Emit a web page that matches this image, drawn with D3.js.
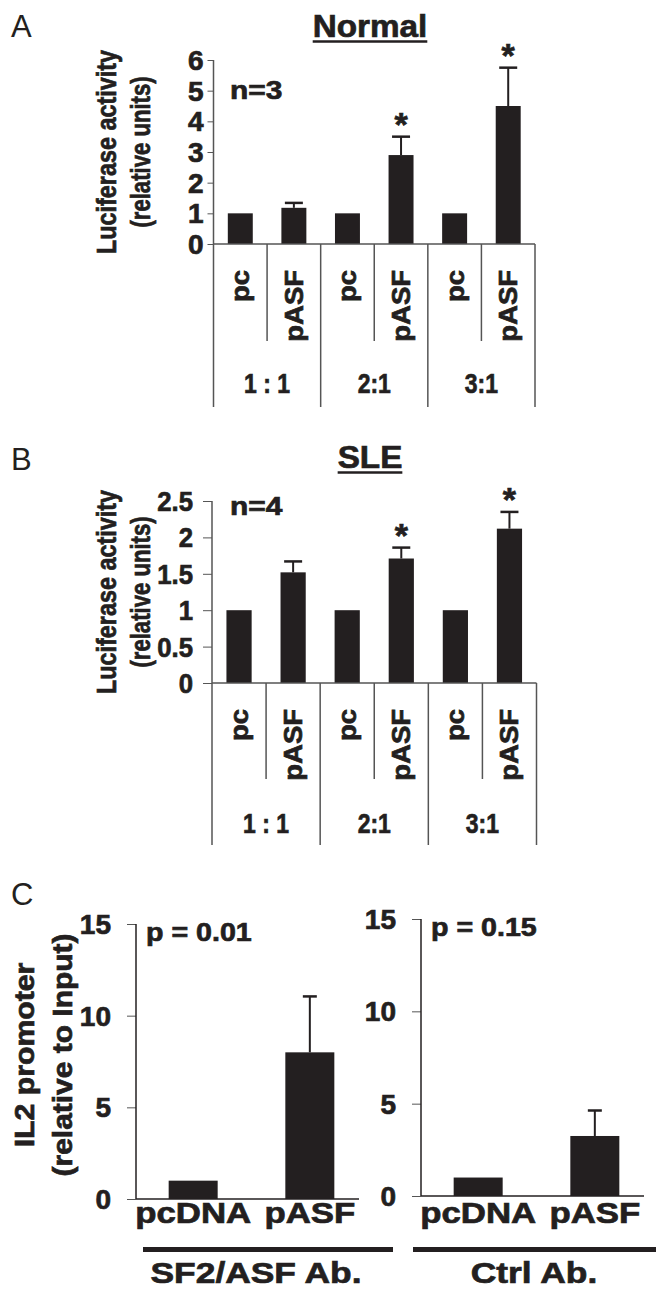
<!DOCTYPE html>
<html>
<head>
<meta charset="utf-8">
<script src="https://cdn.jsdelivr.net/npm/d3@7"></script>
<style>
  html, body { margin: 0; padding: 0; background: #fff; }
  svg { display: block; font-family: "Liberation Sans", Arial, Helvetica, sans-serif; }
</style>
</head>
<body>
<div id="figure"></div>
<script>
// ---- data ----
const groupLabels = ["1 : 1", "2:1", "3:1"]
const plasmids = ["pc", "pASF"]

const normalMeans = [1, 1.18, 1, 2.9, 1, 4.5]
const normalErrors = [0, 0.16, 0, 0.6, 0, 1.25]
const normalStars = [false, false, false, true, false, true]
const normalTicks = [0, 1, 2, 3, 4, 5, 6]

const sleMeans = [1, 1.52, 1, 1.71, 1, 2.12]
const sleErrors = [0, 0.15, 0, 0.15, 0, 0.23]
const sleStars = [false, false, false, true, false, true]
const sleTicks = [0, 0.5, 1, 1.5, 2, 2.5]

const chipCategories = ["pcDNA", "pASF"]
const sf2Means = [1, 8.0]
const sf2Errors = [0, 3.05]
const ctrlMeans = [1, 3.25]
const ctrlErrors = [0, 1.38]
const chipTicks = [0, 5, 10, 15]

const barColor = "#231f20"
const axisColor = "#555"

const svg = d3.select("#figure")
  .append("svg")
    .attr("width", 658)
    .attr("height", 1290)

// text helper: stretch along the reading direction, optional rotation
function label(parent, str, x, y, opts = {}) {
  const {size = 24, weight = "bold", anchor = "start", sx = 1, rotate = 0, dy = null} = opts
  const t = parent.append("text")
    .attr("transform", `translate(${x},${y}) rotate(${rotate}) scale(${sx},1)`)
    .attr("font-size", size)
    .attr("font-weight", weight)
    .attr("text-anchor", anchor)
    .attr("fill", "#231f20")
    .text(str)
  if (weight === "bold") t.attr("stroke", "#231f20").attr("stroke-width", 0.7)
  if (dy) t.attr("dy", dy)
  return t
}

// ---- panels A and B: luciferase assays ----
function drawLuciferase(cfg) {
  const g = svg.append("g")
  const slots = d3.range(groupLabels.length * plasmids.length)

  const xScale = d3.scaleBand()
    .domain(slots)
    .range([cfg.left, cfg.right])
    .paddingInner(0.534)
    .paddingOuter(0.267)
  const step = xScale.step()
  const slotCenter = i => xScale(i) + xScale.bandwidth() / 2

  const yScale = d3.scaleLinear()
    .domain([0, d3.max(cfg.ticks)])
    .range([cfg.zeroY, cfg.topY])

  // letter + title
  label(g, cfg.letter, 11, cfg.letterY, {size: 31, weight: "normal"})
  const title = label(g, cfg.title, 370, cfg.titleY, {size: 32, anchor: "middle", sx: 1.04})
  const tw = title.node().getComputedTextLength() * 1.04
  g.append("line")
    .attr("x1", 370 - tw / 2).attr("x2", 370 + tw / 2)
    .attr("y1", cfg.titleY + 4.5).attr("y2", cfg.titleY + 4.5)
    .attr("stroke", "#231f20").attr("stroke-width", 2.5)

  // y axis ticks
  const yAxis = d3.axisLeft(yScale)
    .tickValues(cfg.ticks)
    .tickSize(cfg.tickLen)
    .tickFormat("")
  g.append("g")
    .attr("transform", `translate(${cfg.left},0)`)
    .call(yAxis)
    .call(a => a.select(".domain").remove())
    .call(a => a.selectAll(".tick line").attr("stroke", axisColor))
  cfg.ticks.forEach(t => {
    label(g, d3.format("~g")(t), cfg.left - cfg.labelGap, yScale(t),
      {size: 28, anchor: "end", sx: cfg.tickSx, dy: "0.36em"})
  })

  // bars
  g.selectAll(".bar")
    .data(cfg.means)
    .join("rect")
      .attr("x", (d, i) => xScale(i))
      .attr("width", xScale.bandwidth())
      .attr("y", d => yScale(d))
      .attr("height", d => yScale(0) - yScale(d))
      .attr("fill", barColor)

  // error bars (upper only) and stars
  cfg.means.forEach((m, i) => {
    const e = cfg.errors[i]
    if (!e) return
    const cx = slotCenter(i)
    g.append("line")
      .attr("x1", cx).attr("x2", cx)
      .attr("y1", yScale(m)).attr("y2", yScale(m + e))
      .attr("stroke", barColor).attr("stroke-width", 2)
    g.append("line")
      .attr("x1", cx - 9).attr("x2", cx + 9)
      .attr("y1", yScale(m + e)).attr("y2", yScale(m + e))
      .attr("stroke", barColor).attr("stroke-width", 2.5)
    if (cfg.stars[i]) {
      label(g, "*", cx, yScale(m + e) - 1, {size: 34, anchor: "middle"})
    }
  })

  // axis frame: baseline, left line, slot separators
  g.append("line")
    .attr("x1", cfg.left).attr("x2", cfg.right)
    .attr("y1", cfg.zeroY).attr("y2", cfg.zeroY)
    .attr("stroke", axisColor).attr("stroke-width", 1.5)
  d3.range(slots.length + 1).forEach(k => {
    const x = cfg.left + k * step
    const long = k % plasmids.length === 0
    g.append("line")
      .attr("x1", x).attr("x2", x)
      .attr("y1", k === 0 ? cfg.topY : cfg.zeroY)
      .attr("y2", long ? cfg.longBottom : cfg.shortBottom)
      .attr("stroke", axisColor).attr("stroke-width", 1.5)
  })

  // plasmid labels (rotated)
  slots.forEach(i => {
    label(g, plasmids[i % plasmids.length], slotCenter(i) + 9, cfg.zeroY + 26,
      {size: 25, anchor: "end", sx: 1.1, rotate: -90})
  })
  // ratio labels
  groupLabels.forEach((gl, j) => {
    const cx = cfg.left + (j + 0.5) * step * plasmids.length
    label(g, gl, cx, cfg.groupY, {size: 28, anchor: "middle", sx: 0.82})
  })

  // n label
  label(g, cfg.nText, 230, cfg.nY, {size: 26, sx: 1.15})

  // y-axis title
  const cy = (cfg.zeroY + cfg.topY) / 2
  label(g, "Luciferase activity", 116, cy, {size: 28, anchor: "middle", sx: 0.835, rotate: -90})
  label(g, "(relative units)", 150, cy, {size: 28, anchor: "middle", sx: 0.79, rotate: -90})
}

drawLuciferase({
  letter: "A", letterY: 37, title: "Normal", titleY: 37,
  left: 213.5, right: 535, zeroY: 244, topY: 60,
  ticks: normalTicks, means: normalMeans, errors: normalErrors, stars: normalStars,
  tickLen: 6, labelGap: 10, tickSx: 1.0,
  shortBottom: 341, longBottom: 407, groupY: 393,
  nText: "n=3", nY: 99
})

drawLuciferase({
  letter: "B", letterY: 470, title: "SLE", titleY: 468,
  left: 212, right: 536.5, zeroY: 683, topY: 501,
  ticks: sleTicks, means: sleMeans, errors: sleErrors, stars: sleStars,
  tickLen: 9, labelGap: 19, tickSx: 0.92,
  shortBottom: 779, longBottom: 845, groupY: 833,
  nText: "n=4", nY: 515
})

// ---- panel C: ChIP ----
label(svg, "C", 11, 905, {size: 31, weight: "normal"})

function drawChip(cfg) {
  const g = svg.append("g")
  const yScale = d3.scaleLinear()
    .domain([0, d3.max(chipTicks)])
    .range([cfg.zeroY, cfg.topY])
  const xScale = d3.scaleBand()
    .domain(chipCategories)
    .range([cfg.left, cfg.left + 231])
    .paddingInner(0.58)
    .paddingOuter(0.28)
  const cx = d => xScale(d) + xScale.bandwidth() / 2

  // axes
  const yAxis = d3.axisLeft(yScale)
    .tickValues(chipTicks)
    .tickSize(9)
    .tickFormat("")
  g.append("g")
    .attr("transform", `translate(${cfg.left},0)`)
    .call(yAxis)
    .call(a => a.select(".domain").remove())
    .call(a => a.selectAll(".tick line").attr("stroke", axisColor))
  chipTicks.forEach(t => {
    label(g, t, cfg.left - 25, yScale(t), {size: 28, anchor: "end", sx: 1.0, dy: "0.36em"})
  })
  g.append("line")
    .attr("x1", cfg.left).attr("x2", cfg.left)
    .attr("y1", cfg.topY).attr("y2", cfg.zeroY)
    .attr("stroke", "#231f20").attr("stroke-width", 1.5)
  g.append("line")
    .attr("x1", cfg.left).attr("x2", cfg.left + 223)
    .attr("y1", cfg.zeroY).attr("y2", cfg.zeroY)
    .attr("stroke", "#231f20").attr("stroke-width", 1.5)

  // bars
  g.selectAll(".bar")
    .data(cfg.means)
    .join("rect")
      .attr("x", (d, i) => xScale(chipCategories[i]))
      .attr("width", xScale.bandwidth())
      .attr("y", d => yScale(d))
      .attr("height", d => yScale(0) - yScale(d))
      .attr("fill", barColor)

  cfg.means.forEach((m, i) => {
    const e = cfg.errors[i]
    if (!e) return
    const x = cx(chipCategories[i])
    g.append("line")
      .attr("x1", x).attr("x2", x)
      .attr("y1", yScale(m)).attr("y2", yScale(m + e))
      .attr("stroke", barColor).attr("stroke-width", 2)
    g.append("line")
      .attr("x1", x - 7).attr("x2", x + 7)
      .attr("y1", yScale(m + e)).attr("y2", yScale(m + e))
      .attr("stroke", barColor).attr("stroke-width", 2.5)
  })

  chipCategories.forEach(c => {
    label(g, c, cx(c), 1223, {size: 29, anchor: "middle", sx: 1.2})
  })

  label(g, cfg.pText, cfg.left + 10, cfg.topY + 17, {size: 26, sx: 1.1})

  g.append("line")
    .attr("x1", cfg.barX1).attr("x2", cfg.barX2)
    .attr("y1", 1249.5).attr("y2", 1249.5)
    .attr("stroke", "#231f20").attr("stroke-width", 5)
  label(g, cfg.abText, cfg.abX, 1283, {size: 30, anchor: "middle", sx: 1.18})
}

drawChip({
  left: 136, zeroY: 1199, topY: 924,
  means: sf2Means, errors: sf2Errors,
  pText: "p = 0.01", abText: "SF2/ASF Ab.", barX1: 143, barX2: 393, abX: 256
})

drawChip({
  left: 421, zeroY: 1196, topY: 919,
  means: ctrlMeans, errors: ctrlErrors,
  pText: "p = 0.15", abText: "Ctrl Ab.", barX1: 413, barX2: 656, abX: 534
})

const cyC = 1055
label(svg, "IL2 promoter", 34, cyC, {size: 28, anchor: "middle", sx: 1.08, rotate: -90})
label(svg, "(relative to Input)", 72, cyC, {size: 28, anchor: "middle", sx: 1.07, rotate: -90})
</script>
</body>
</html>
